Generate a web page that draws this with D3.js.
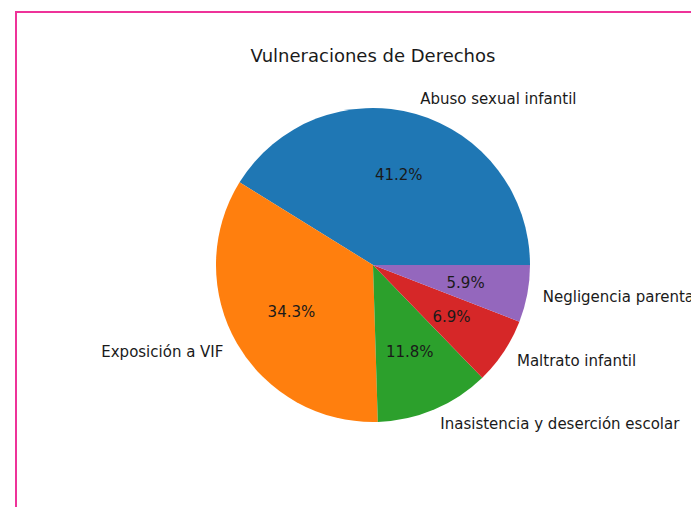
<!DOCTYPE html>
<html>
<head>
<meta charset="utf-8">
<script src="https://cdn.jsdelivr.net/npm/d3@7"></script>
<style>
  body { margin: 0; background: #fff; }
  svg { display: block; font-family: "DejaVu Sans", sans-serif; }
</style>
</head>
<body>
<div id="chart"></div>
<script>
// Data (counts give 41.2 / 34.3 / 11.8 / 6.9 / 5.9 %)
const categories = ['Abuso sexual infantil', 'Exposición a VIF', 'Inasistencia y deserción escolar', 'Maltrato infantil', 'Negligencia parental'];
const counts = [42, 35, 12, 7, 6];
const colors = ['#1f77b4', '#ff7f0e', '#2ca02c', '#d62728', '#9467bd'];
const title = 'Vulneraciones de Derechos';

const width = 691;
const height = 507;
const cx = 373;
const cy = 265;
const radius = 157;

const svg = d3.select('#chart')
  .append('svg')
  .attr('width', width)
  .attr('height', height);

// Pink frame around the figure
svg.append('rect')
  .attr('x', 16)
  .attr('y', 12)
  .attr('width', 800)
  .attr('height', 600)
  .attr('fill', 'none')
  .attr('stroke', '#ee3399')
  .attr('stroke-width', 2);

svg.append('text')
  .attr('x', cx)
  .attr('y', 56)
  .attr('dy', '0.35em')
  .attr('text-anchor', 'middle')
  .attr('font-size', 18)
  .attr('fill', '#1a1a1a')
  .text(title);

const data = categories.map((c, i) => ({ key: c, value: counts[i], color: colors[i] }));
const total = d3.sum(counts);

// matplotlib style: start at 3 o'clock, go counter-clockwise
const pie = d3.pie()
  .sort(null)
  .value(d => d.value)
  .startAngle(Math.PI / 2)
  .endAngle(Math.PI / 2 - 2 * Math.PI);

const arc = d3.arc().innerRadius(0).outerRadius(radius);

const g = svg.append('g')
  .attr('transform', `translate(${cx}, ${cy})`);

const slices = pie(data);

g.selectAll('.slice')
  .data(slices)
  .enter().append('path')
  .attr('class', 'slice')
  .attr('d', arc)
  .attr('fill', d => d.data.color);

const mid = d => (d.startAngle + d.endAngle) / 2;

// Percent labels at 0.6 r
g.selectAll('.pct')
  .data(slices)
  .enter().append('text')
  .attr('class', 'pct')
  .attr('x', d => 0.6 * radius * Math.sin(mid(d)))
  .attr('y', d => -0.6 * radius * Math.cos(mid(d)))
  .attr('dy', '0.35em')
  .attr('text-anchor', 'middle')
  .attr('font-size', 15)
  .attr('fill', '#1a1a1a')
  .text(d => (d.data.value / total * 100).toFixed(1) + '%');

// Category labels at 1.1 r
g.selectAll('.lbl')
  .data(slices)
  .enter().append('text')
  .attr('class', 'lbl')
  .attr('x', d => 1.1 * radius * Math.sin(mid(d)))
  .attr('y', d => -1.1 * radius * Math.cos(mid(d)))
  .attr('dy', '0.35em')
  .attr('text-anchor', d => Math.sin(mid(d)) >= 0 ? 'start' : 'end')
  .attr('font-size', 15)
  .attr('fill', '#1a1a1a')
  .text(d => d.data.key);
</script>
</body>
</html>
